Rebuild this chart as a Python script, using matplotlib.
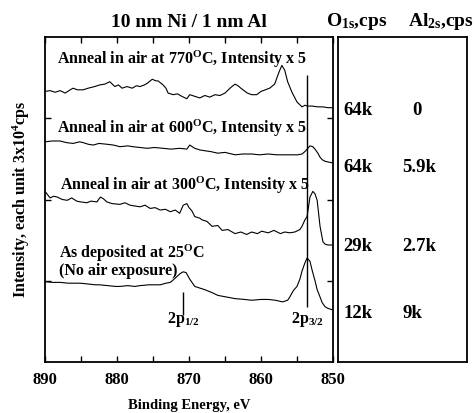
import matplotlib
matplotlib.use("Agg")
import matplotlib.pyplot as plt

plt.rcParams['font.family'] = ['Liberation Serif', 'DejaVu Serif']
plt.rcParams['font.weight'] = 'bold'
plt.rcParams['mathtext.fontset'] = 'custom'
plt.rcParams['mathtext.rm'] = 'Liberation Serif:bold'
plt.rcParams['mathtext.bf'] = 'Liberation Serif:bold'
plt.rcParams['mathtext.it'] = 'Liberation Serif:italic:bold'

# binding energy (eV) and offset intensity for each spectrum
ev_770 = [890, 889.3, 888.6, 887.9, 887.2, 886.5, 886.1, 885.5, 884.7, 884.0,
          883.1, 882.4, 881.7, 881.0, 880.3, 879.8, 879.3, 878.6, 877.9, 877.3,
          876.8, 876.2, 875.8, 875.1, 874.6, 874.3, 873.6, 873.2, 872.9, 872.2,
          871.6, 871.0, 870.3, 869.9, 869.2, 868.5, 867.8, 867.1, 866.4, 865.7,
          865.0, 864.3, 863.9, 863.6, 863.2, 862.8, 862.5, 861.9, 861.3, 860.6,
          860.0, 859.4, 858.8, 858.1, 857.7, 857.4, 857.1, 856.7, 856.3, 855.7,
          855.0, 854.3, 853.9, 853.5, 852.9, 852.1, 851.4, 850.7, 850.0]
int_770 = [3.33, 3.34, 3.32, 3.34, 3.31, 3.35, 3.37, 3.35, 3.35, 3.37,
           3.39, 3.41, 3.42, 3.45, 3.39, 3.41, 3.37, 3.39, 3.37, 3.40,
           3.39, 3.41, 3.43, 3.48, 3.46, 3.46, 3.41, 3.37, 3.31, 3.29,
           3.30, 3.27, 3.24, 3.29, 3.27, 3.25, 3.28, 3.26, 3.29, 3.28,
           3.31, 3.37, 3.40, 3.42, 3.40, 3.37, 3.35, 3.31, 3.29, 3.29,
           3.33, 3.35, 3.37, 3.42, 3.52, 3.59, 3.65, 3.59, 3.45, 3.32,
           3.20, 3.14, 3.16, 3.15, 3.15, 3.14, 3.14, 3.13, 3.13]

ev_600 = [890, 889.0, 887.9, 887.0, 886.1, 885.2, 884.7, 884.0, 883.3, 882.5,
          881.4, 880.5, 879.6, 878.5, 877.8, 876.8, 875.8, 874.8, 873.6, 872.5,
          871.3, 870.3, 869.9, 869.2, 868.5, 867.8, 867.0, 866.0, 865.0, 863.6,
          862.5, 861.3, 860.2, 859.0, 857.8, 856.7, 855.5, 854.9, 854.3, 853.9,
          853.5, 853.2, 852.8, 852.5, 852.1, 851.8, 851.5, 851.1, 850.6, 850.0]
int_600 = [2.71, 2.72, 2.72, 2.70, 2.69, 2.71, 2.70, 2.68, 2.67, 2.69,
           2.68, 2.67, 2.65, 2.66, 2.65, 2.64, 2.63, 2.64, 2.63, 2.62,
           2.63, 2.62, 2.67, 2.63, 2.61, 2.60, 2.59, 2.57, 2.58, 2.55,
           2.56, 2.56, 2.55, 2.56, 2.55, 2.55, 2.55, 2.55, 2.56, 2.59,
           2.63, 2.66, 2.65, 2.62, 2.57, 2.52, 2.49, 2.47, 2.46, 2.45]

ev_300 = [890, 889.3, 888.8, 888.3, 887.6, 886.9, 886.3, 885.6, 885.0, 884.2,
          883.6, 882.8, 882.3, 881.9, 881.4, 880.7, 879.6, 878.9, 878.2, 877.5,
          876.8, 876.1, 875.4, 874.7, 874.0, 873.3, 872.6, 871.9, 871.3, 870.8,
          870.3, 870.0, 869.6, 869.2, 868.5, 868.2, 867.5, 866.8, 866.0, 865.4,
          864.6, 863.6, 862.8, 862.0, 861.3, 860.5, 859.9, 859.0, 858.2, 857.3,
          856.7, 856.0, 855.3, 854.6, 854.3, 853.9, 853.6, 853.2, 852.8, 852.5,
          852.2, 851.8, 851.4, 851.1, 850.7, 850.0]
int_300 = [2.10, 2.02, 2.04, 2.03, 2.00, 1.99, 2.02, 1.98, 1.97, 1.96,
           1.98, 1.97, 2.03, 2.01, 1.97, 1.95, 1.94, 1.96, 1.93, 1.92,
           1.91, 1.93, 1.89, 1.90, 1.87, 1.88, 1.85, 1.87, 1.83, 1.93,
           1.95, 1.90, 1.86, 1.79, 1.77, 1.75, 1.73, 1.67, 1.68, 1.62,
           1.63, 1.58, 1.60, 1.57, 1.60, 1.58, 1.61, 1.59, 1.62, 1.58,
           1.60, 1.59, 1.60, 1.63, 1.67, 1.75, 1.79, 2.03, 2.10, 2.07,
           1.99, 1.67, 1.48, 1.45, 1.44, 1.44]

ev_25 = [890, 889.0, 887.9, 886.8, 885.8, 885.1, 884.0, 883.0, 882.4, 881.3,
         880.2, 879.6, 878.5, 877.5, 876.8, 875.6, 874.5, 874.0, 873.2, 872.6,
         872.2, 871.7, 871.2, 870.8, 870.4, 869.9, 869.2, 868.5, 867.8, 866.7,
         866.0, 864.8, 863.6, 862.3, 861.3, 860.0, 859.0, 858.0, 857.0, 856.3,
         856.0, 855.5, 855.0, 854.6, 854.3, 853.9, 853.6, 853.2, 852.9, 852.5,
         852.2, 851.8, 851.5, 851.1, 850.7, 850.0]
int_25 = [0.99, 0.98, 0.98, 0.97, 0.97, 0.97, 0.96, 0.95, 0.95, 0.94,
          0.93, 0.93, 0.94, 0.93, 0.94, 0.95, 0.95, 0.95, 0.97, 0.98,
          1.01, 1.05, 1.09, 1.11, 1.10, 1.02, 0.93, 0.91, 0.89, 0.85,
          0.82, 0.80, 0.78, 0.77, 0.76, 0.77, 0.77, 0.76, 0.74, 0.76,
          0.80, 0.88, 0.93, 1.02, 1.12, 1.22, 1.28, 1.24, 1.13, 1.00,
          0.89, 0.80, 0.73, 0.68, 0.66, 0.64]

# peak markers (eV, y-from, y-to)
p32_ev, p32_span = 853.6, (0.68, 3.53)
p12_ev, p12_span = 870.8, (0.58, 0.86)

labels = ["Anneal in air at 770$^{\\rm O}$C, Intensity x 5",
          "Anneal in air at 600$^{\\rm O}$C, Intensity x 5",
          "Anneal in air at 300$^{\\rm O}$C, Intensity x 5",
          "As deposited at 25$^{\\rm O}$C",
          "(No air exposure)"]
label_pos = [(888.3, 3.72), (888.3, 2.88), (887.9, 2.18), (888.1, 1.34), (888.1, 1.12)]

o1s = ["64k", "64k", "29k", "12k"]
al2s = ["0", "5.9k", "2.7k", "9k"]
row_y = [0.775, 0.60, 0.354, 0.148]

fig = plt.figure(figsize=(4.75, 4.13), dpi=100)
ax = fig.add_axes([45 / 475, 1 - 362 / 413, 288 / 475, 325 / 413])
ax2 = fig.add_axes([338 / 475, 1 - 362 / 413, 129 / 475, 325 / 413])

for ev, inten in [(ev_770, int_770), (ev_600, int_600), (ev_300, int_300), (ev_25, int_25)]:
    ax.plot(ev, inten, color='black', lw=0.8)

ax.vlines(p32_ev, *p32_span, color='black', lw=1.0)
ax.vlines(p12_ev, *p12_span, color='black', lw=1.0)

for txt, (x, y) in zip(labels, label_pos):
    ax.text(x, y, txt, fontsize=11.5, fontweight='bold', va='center', ha='left')
ax.text(p12_ev, 0.52, "2p$_{\\rm 1/2}$", fontsize=11.5, ha='center', va='center')
ax.text(p32_ev, 0.52, "2p$_{\\rm 3/2}$", fontsize=11.5, ha='center', va='center')

ax.set_xlim(890, 850)
ax.set_ylim(0, 4)
ax.set_xticks([890, 880, 870, 860, 850])
ax.set_xticks([885, 875, 865, 855], minor=True)
ax.set_yticks([1, 2, 3])
ax.set_yticklabels([])
ax.tick_params(which='both', direction='in', top=True, right=True, length=4, width=1)
ax.tick_params(axis='x', labelsize=12, pad=7)
for s in ax.spines.values():
    s.set_linewidth(1.3)
ax.set_xlabel("Binding Energy, eV", fontsize=10.5, fontweight='bold', labelpad=8)
ax.set_ylabel("Intensity, each unit 3x10$^{\\rm 4}$cps", fontsize=11.5, fontweight='bold', labelpad=6)
ax.set_title("10 nm Ni / 1 nm Al", fontsize=14, fontweight='bold', pad=7)

ax2.set_xticks([])
ax2.set_yticks([])
for s in ax2.spines.values():
    s.set_linewidth(1.3)
for a, b, y in zip(o1s, al2s, row_y):
    ax2.text(0.04, y, a, fontsize=13.5, fontweight='bold', va='center', ha='left', transform=ax2.transAxes)
    if b == "0":
        ax2.text(0.61, y, b, fontsize=13.5, fontweight='bold', va='center', ha='center', transform=ax2.transAxes)
    else:
        ax2.text(0.50, y, b, fontsize=13.5, fontweight='bold', va='center', ha='left', transform=ax2.transAxes)
fig.text(326 / 475, 1 - 22 / 413, "O$_{\\rm 1s}$,cps", fontsize=14, fontweight='bold', va='center', ha='left')
fig.text(408 / 475, 1 - 22 / 413, "Al$_{\\rm 2s}$,cps", fontsize=14, fontweight='bold', va='center', ha='left')

fig.savefig("out.png", dpi=100)
